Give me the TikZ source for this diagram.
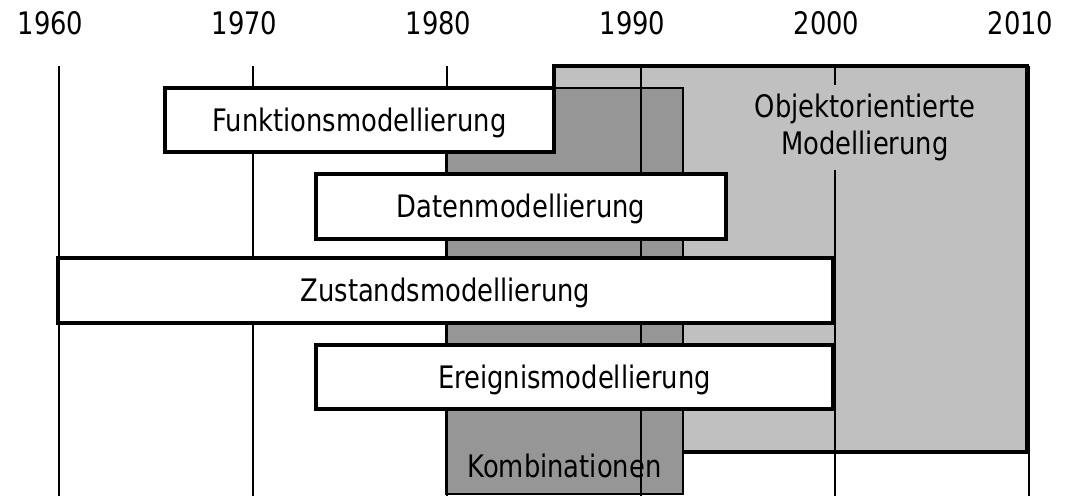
\documentclass[tikz,border=0pt]{standalone}
\usepackage{fontspec}
\setmainfont{DejaVu Sans Condensed}[FakeStretch=0.925]
\definecolor{hellgrau}{gray}{0.753}
\definecolor{dunkelgrau}{gray}{0.588}

\begin{document}
\begin{tikzpicture}[x=1pt,y=-1pt]
    \tikzstyle{every node}+=[font=\fontsize{31}{37}\selectfont]
    \tikzstyle{modbox}=[draw=black, line width=3.3pt, fill=white, inner sep=0pt, text height=22.6pt, text depth=0pt]
    \tikzstyle{grundbox}=[draw=black, inner sep=0pt]
    \useasboundingbox (0,0) rectangle (1070,496);
    % Hintergrund: OO und Kombinationen
    \node [grundbox, line width=3.3pt, fill=hellgrau, minimum width=473pt, minimum height=386pt] (oobox) at (790.5,259) {};
    \node [grundbox, line width=1.8pt, fill=dunkelgrau, minimum width=237pt, minimum height=406pt] (kombibox) at (564.5,291) {};
    % Zeitachse
    \foreach \jahr [count=\i from 0] in {1960,1970,...,2010} {
        \draw [black, line width=2pt] (58.5+194*\i,66) -- (58.5+194*\i,496);
        \node [anchor=base] (j\jahr) at (50.5+194*\i,34.5) {\jahr};
    }
    \node [fill=hellgrau, align=center, minimum height=85pt, inner xsep=4pt] (oo) at (865,127) {Objektorientierte\\Modellierung};
    % Modellierungsarten
    \node [modbox, minimum width=389pt, minimum height=64pt] (funktion) at (359.5,120) {Funktionsmodellierung};
    \node [modbox, minimum width=410pt, minimum height=65pt] (daten) at (521,206.5) {Datenmodellierung};
    \node [modbox, minimum width=775pt, minimum height=65pt] (zustand) at (445.5,290.5) {Zustandsmodellierung};
    \node [modbox, minimum width=517pt, minimum height=64pt] (ereignis) at (574.5,377) {Ereignismodellierung};
    \node [anchor=base] (kombi) at (564.5,477) {Kombinationen};
\end{tikzpicture}
\end{document}
